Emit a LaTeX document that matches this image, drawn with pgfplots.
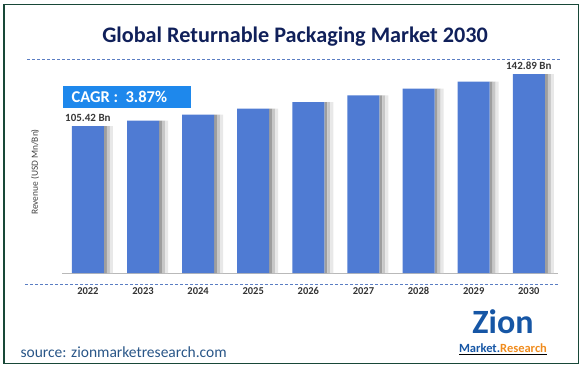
\documentclass[border=0pt]{standalone}
\usepackage{pgfplots}
\pgfplotsset{compat=1.18}
\usepackage{fontspec}
\setmainfont{Carlito}
\definecolor{barblue}{RGB}{79,123,211}
\definecolor{titlecol}{RGB}{16,32,90}
\definecolor{bordercol}{RGB}{24,72,56}
\definecolor{cagrblue}{RGB}{30,136,236}
\definecolor{dashcol}{RGB}{90,125,195}
\definecolor{srccol}{RGB}{40,85,135}
\definecolor{logoblue}{RGB}{22,86,165}
\definecolor{logoorange}{RGB}{240,140,30}
\pgfplotstableread{
x y
0 105.42
1 109.5
2 113.7
3 118.1
4 122.7
5 127.5
6 132.4
7 137.5
8 142.89
}\revenue
\begin{document}
\begin{tikzpicture}[x=1pt,y=1pt]
\path[use as bounding box] (0,0) rectangle (583,368);
\draw[bordercol, line width=1.6pt] (4,4.5) rectangle (578.5,363.5);
\node[font=\bfseries\fontsize{22.2}{26}\selectfont, text=titlecol] at (295,331) {Global Returnable Packaging Market 2030};
\draw[dashcol, line width=0.7pt, dash pattern=on 3pt off 2pt] (27,309) -- (560,309);
\draw[dashcol, line width=0.7pt, dash pattern=on 3pt off 2pt] (25,84) -- (558,84);
\begin{axis}[at={(62pt,95pt)}, anchor=south west, scale only axis,
  width=496pt, height=208.9pt, xmin=-0.47, xmax=8.53, ymin=0, ymax=150,
  axis y line=none, axis x line*=bottom,
  x axis line style={-, draw=gray!55, line width=0.8pt},
  xtick={0,1,2,3,4,5,6,7,8},
  xticklabels={2022,2023,2024,2025,2026,2027,2028,2029,2030},
  major tick length=0pt,
  xticklabel style={font=\bfseries\fontsize{10.5}{12}\selectfont, text=black!80, yshift=-11pt},
  ybar, clip=false]
\addplot[draw=none, fill=black!38, bar width=3pt, bar shift=17.5pt] table[x=x,y=y] {\revenue};
\addplot[draw=none, fill=black!22, bar width=3pt, bar shift=20.5pt] table[x=x,y=y] {\revenue};
\addplot[draw=none, fill=black!9, bar width=3pt, bar shift=23.5pt] table[x=x,y=y] {\revenue};
\addplot[draw=none, fill=barblue, bar width=32pt, bar shift=0pt] table[x=x,y=y] {\revenue};
\node[font=\bfseries\fontsize{11}{13}\selectfont, text=black!78, above] at (axis cs:0,105.42) [yshift=1pt] {105.42 Bn};
\node[font=\bfseries\fontsize{11}{13}\selectfont, text=black!78, above] at (axis cs:8,142.89) [yshift=1pt] {142.89 Bn};
\end{axis}
\node[rotate=90, font=\fontsize{9.4}{11}\selectfont, text=black!75] at (35,196) {Revenue (USD Mn/Bn)};
\fill[cagrblue] (63,260) rectangle (191,282);
\node[anchor=west, font=\bfseries\fontsize{16.5}{18}\selectfont, text=white] at (68,271) {CAGR :\ \ 3.87\%};
\node[anchor=west, font=\fontsize{15.5}{17}\selectfont, text=srccol] at (17,16) {source: zionmarketresearch.com};
\node[inner sep=0pt, font=\bfseries\fontsize{34}{36}\selectfont, text=logoblue] at (503,46) {Zion};
\node[inner sep=0pt, font=\bfseries\fontsize{12.5}{14}\selectfont] at (503,19) {\underline{\textcolor{logoblue}{Market.}\textcolor{logoorange}{Research}}};
\end{tikzpicture}
\end{document}
